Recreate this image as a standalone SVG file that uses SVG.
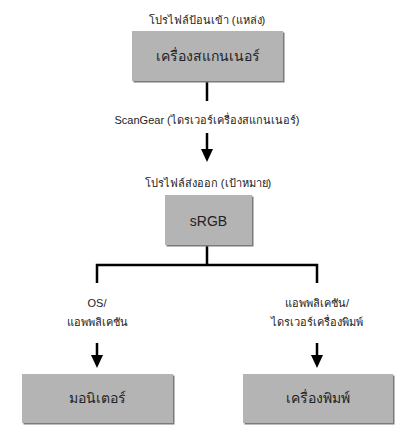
<svg xmlns="http://www.w3.org/2000/svg" width="416" height="446" viewBox="0 0 416 446">
<defs>
<style>
.box{fill:#b4b4b4;}
.sh{fill:#7a7a7a;}
.bt{font-family:"Liberation Sans","Noto Sans",sans-serif;font-size:14px;fill:#222;text-anchor:middle;}
.lb{font-family:"Liberation Sans","Noto Sans",sans-serif;font-size:11px;fill:#222;text-anchor:middle;}
.ln{stroke:#000;stroke-width:2.5;fill:none;}
.ah{fill:#000;}
</style>
</defs>
<rect width="416" height="446" fill="#fff"/>
<g id="connectors">
<line class="ln" x1="207" y1="81" x2="207" y2="101"/>
<path d="M207,133 V150" class="ln"/>
<path class="ah" d="M201,149 L213,149 L207,162 Z"/>
<path class="ln" d="M207,245 V265 M97,283 V265 H317 V283"/>
<path d="M97,343 V356" class="ln"/>
<path class="ah" d="M91,355 L103,355 L97,368 Z"/>
<path d="M317,343 V356" class="ln"/>
<path class="ah" d="M311,355 L323,355 L317,368 Z"/>
<text class="lb" x="207" y="124">ScanGear (ไดรเวอร์เครื่องสแกนเนอร์)</text>
<text class="lb" x="97" y="307">OS/</text>
<text class="lb" x="97" y="326">แอพพลิเคชัน</text>
<text class="lb" x="317" y="307">แอพพลิเคชัน/</text>
<text class="lb" x="317" y="326">ไดรเวอร์เครื่องพิมพ์</text>
</g>
<g id="scanner">
<text class="lb" x="207" y="24">โปรไฟล์ป้อนเข้า (แหล่ง)</text>
<rect class="sh" x="133.5" y="32.5" width="151" height="50"/>
<rect class="box" x="132" y="31" width="151" height="50"/>
<text class="bt" x="207.5" y="61">เครื่องสแกนเนอร์</text>
</g>
<g id="srgb">
<text class="lb" x="208" y="187">โปรไฟล์ส่งออก (เป้าหมาย)</text>
<rect class="sh" x="166.5" y="196.5" width="87" height="50"/>
<rect class="box" x="165" y="195" width="87" height="50"/>
<text class="bt" x="208.5" y="226">sRGB</text>
</g>
<g id="monitor">
<rect class="sh" x="23.5" y="375.5" width="151" height="49"/>
<rect class="box" x="22" y="374" width="151" height="49"/>
<text class="bt" x="97.5" y="403">มอนิเตอร์</text>
</g>
<g id="printer">
<rect class="sh" x="244.5" y="375.5" width="150" height="49"/>
<rect class="box" x="243" y="374" width="150" height="49"/>
<text class="bt" x="318" y="403">เครื่องพิมพ์</text>
</g>
</svg>
